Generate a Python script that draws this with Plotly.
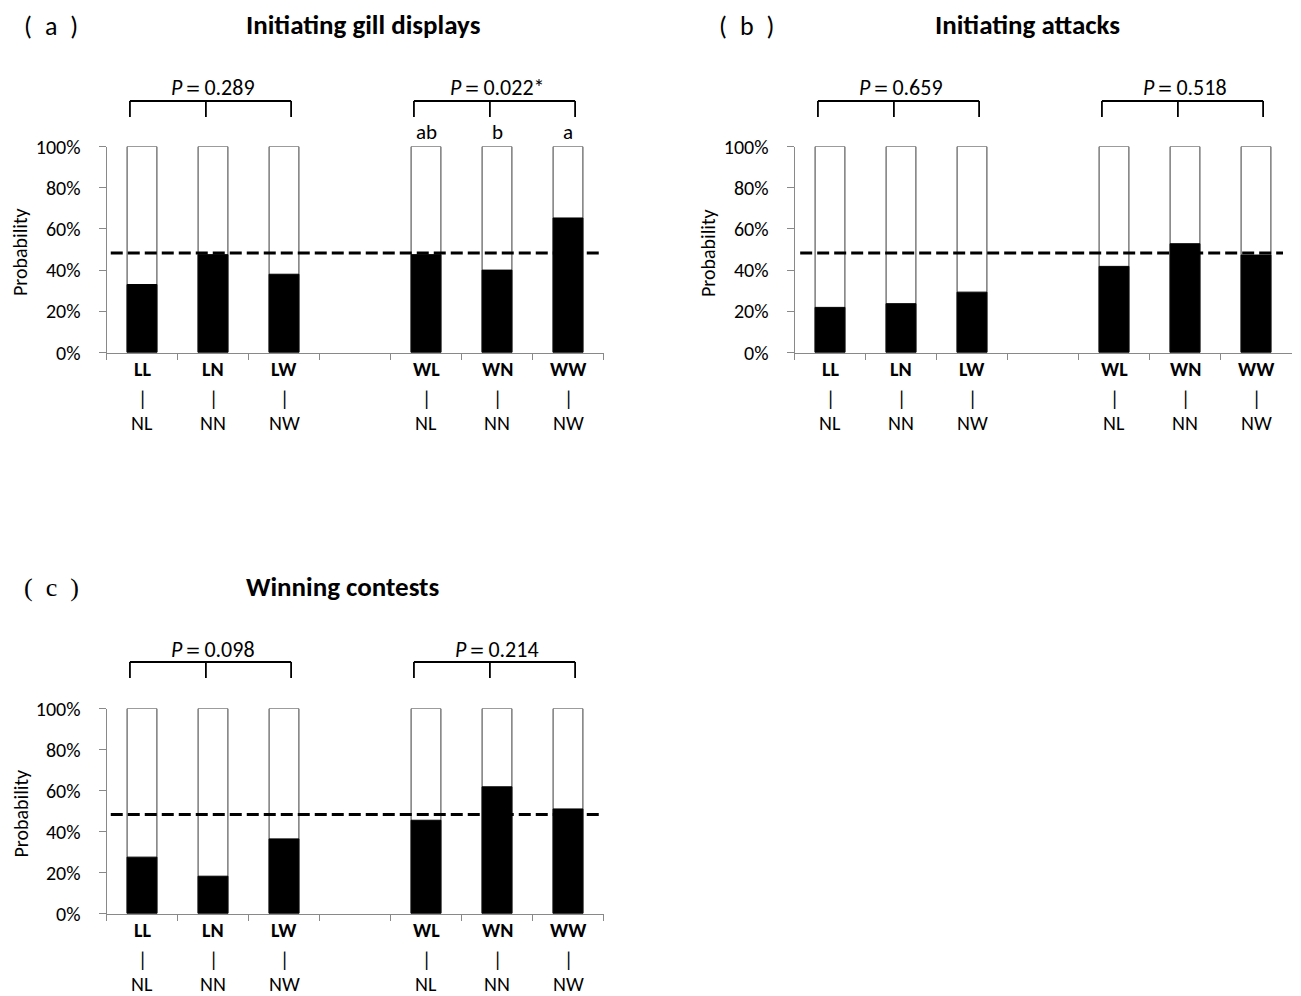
import plotly.graph_objects as go

# ---------------- data ----------------
top_labels = ["LL", "LN", "LW", "WL", "WN", "WW"]
bottom_labels = ["NL", "NN", "NW", "NL", "NN", "NW"]
gap_label = " "
categories = ["LL", "LN", "LW", gap_label, "WL", "WN", "WW"]

gill_displays = [0.330, 0.475, 0.380, 0.475, 0.400, 0.653]
attacks = [0.219, 0.237, 0.293, 0.418, 0.528, 0.473]
winning = [0.275, 0.182, 0.364, 0.455, 0.618, 0.510]

p_gill = ["0.289", "0.022*"]
p_attacks = ["0.659", "0.518"]
p_winning = ["0.098", "0.214"]

letters_gill = ["ab", "b", "a"]  # above WL, WN, WW
chance_level = 0.483

titles = ["Initiating gill displays", "Initiating attacks", "Winning contests"]
panel_letters = ["a", "b", "c"]

# ---------------- layout helpers ----------------
# the page body has an 8px margin, so figure pixel = screen pixel - 8
OFF = 8
W, H = 1301 - 2 * OFF, 996 - OFF
FONT = "Carlito, Lato, 'Open Sans', sans-serif"
AX_GREY = "#898989"


def px(x):
    return (x - OFF) / W


def py(y):
    return 1 - (y - OFF) / H


def with_gap(vals):
    return vals[:3] + [None] + vals[3:]


panels = [
    dict(vals=gill_displays, pv=p_gill, x0=106.5, x1=603.5, ytop=146.5, ybot=352.5,
         title=titles[0], tag=panel_letters[0], title_x=363, tag_x=51,
         tag_font=FONT, letters=letters_gill, dash=(-0.44, 6.44)),
    dict(vals=attacks, pv=p_attacks, x0=794.5, x1=1291.5, ytop=146.5, ybot=352.5,
         title=titles[1], tag=panel_letters[1], title_x=1027, tag_x=747,
         tag_font=FONT, letters=None, dash=(-0.42, 6.38)),
    dict(vals=winning, pv=p_winning, x0=106.5, x1=603.5, ytop=708.5, ybot=913.5,
         title=titles[2], tag=panel_letters[2], title_x=342, tag_x=51,
         tag_font="'Liberation Serif', serif", letters=None, dash=(-0.44, 6.44)),
]

fig = go.Figure()
annotations = []
shapes = []

for i, p in enumerate(panels):
    n = "" if i == 0 else str(i + 1)
    xa, ya = "x" + n, "y" + n
    off = p["ybot"] - 352.5  # vertical offset relative to panel a

    # white full-height bars
    fig.add_trace(go.Bar(
        x=categories, y=with_gap([1.0] * 6), xaxis=xa, yaxis=ya,
        marker=dict(color="white", line=dict(color="#3a3a3a", width=1)),
        showlegend=False, hoverinfo="skip"))
    # black probability bars
    fig.add_trace(go.Bar(
        x=categories, y=with_gap(p["vals"]), xaxis=xa, yaxis=ya,
        marker=dict(color="black", line=dict(color="black", width=1)),
        showlegend=False))

    fig.update_layout({
        "xaxis" + n: dict(
            domain=[px(p["x0"]), px(p["x1"])], anchor=ya,
            type="category", categoryorder="array", categoryarray=categories,
            range=[-0.5, 6.5], showline=True, linecolor=AX_GREY, linewidth=1,
            ticks="outside", tickson="boundaries", ticklen=6, tickcolor=AX_GREY,
            showticklabels=False, showgrid=False, zeroline=False, fixedrange=True,
            automargin=False),
        "yaxis" + n: dict(
            domain=[py(p["ybot"]), py(p["ytop"])], anchor=xa,
            range=[0, 1], tickvals=[0, 0.2, 0.4, 0.6, 0.8, 1.0], tickformat=".0%",
            showline=True, linecolor=AX_GREY, linewidth=1, ticks="outside",
            ticklen=7, tickcolor=AX_GREY, ticklabelstandoff=14,
            showgrid=False, zeroline=False, automargin=False,
            tickfont=dict(family=FONT, size=20, color="black"), fixedrange=True),
    })

    # dashed chance line
    shapes.append(dict(type="line", xref=xa, yref=ya, x0=p["dash"][0], x1=p["dash"][1],
                       y0=chance_level, y1=chance_level,
                       line=dict(color="black", width=3.2, dash="12px,5px")))

    # y-axis title
    annotations.append(dict(text="Probability", xref="paper", yref="paper",
                            x=px(p["x0"] - 86), y=py((p["ytop"] + p["ybot"]) / 2 + 3),
                            xanchor="center", yanchor="middle",
                            textangle=-90, showarrow=False,
                            font=dict(family=FONT, size=20, color="black")))

    # category labels (three lines)
    real_cats = [c for c in categories if c != gap_label]
    for j, c in enumerate(real_cats):
        for txt, yy in ((f"<b>{top_labels[j]}</b>", 369), ("|", 399), (bottom_labels[j], 423)):
            annotations.append(dict(text=txt, xref=xa, yref="paper", x=c,
                                    y=py(yy + off), xanchor="center", yanchor="middle",
                                    showarrow=False,
                                    font=dict(family=FONT, size=20, color="black")))

    # brackets + P values
    for g, start in enumerate([0, 4]):
        left, mid, right = start - 0.17, start + 1 - 0.1, start + 2 + 0.1
        ytop_b, ybot_b = py(101 + off), py(117 + off)
        shapes.append(dict(type="line", xref=xa, yref="paper", x0=left, x1=right,
                           y0=ytop_b, y1=ytop_b, line=dict(color="black", width=1.8)))
        for xx in (left, mid, right):
            shapes.append(dict(type="line", xref=xa, yref="paper", x0=xx, x1=xx,
                               y0=ytop_b, y1=ybot_b, line=dict(color="black", width=1.8)))
        annotations.append(dict(text=f"<i>P</i>＝{p['pv'][g]}", xref=xa, yref="paper",
                                x=start + 1, y=py(88 + off), xanchor="center",
                                yanchor="middle", showarrow=False,
                                font=dict(family=FONT, size=22, color="black")))

    if p["letters"]:
        for k, let in enumerate(p["letters"]):
            annotations.append(dict(text=let, xref=xa, yref="paper", x=real_cats[3 + k],
                                    y=py(132 + off), xanchor="center", yanchor="middle",
                                    showarrow=False,
                                    font=dict(family=FONT, size=21, color="black")))

    # title and panel tag
    annotations.append(dict(text=f"<b>{p['title']}</b>", xref="paper", yref="paper",
                            x=px(p["title_x"]), y=py(25 + off), xanchor="center",
                            yanchor="middle", showarrow=False,
                            font=dict(family=FONT, size=27, color="black")))
    annotations.append(dict(text=f"(\u2002{p['tag']}\u2002)", xref="paper", yref="paper",
                            x=px(p["tag_x"]), y=py(26 + off), xanchor="center",
                            yanchor="middle", showarrow=False,
                            font=dict(family=p["tag_font"], size=26, color="black")))

fig.update_layout(
    width=W, height=H, margin=dict(l=0, r=0, t=0, b=0, pad=0, autoexpand=False),
    paper_bgcolor="white", plot_bgcolor="white",
    barmode="overlay", bargap=0.58,
    font=dict(family=FONT, color="black"),
    annotations=annotations, shapes=shapes, showlegend=False,
)

fig.write_html("out.html")
